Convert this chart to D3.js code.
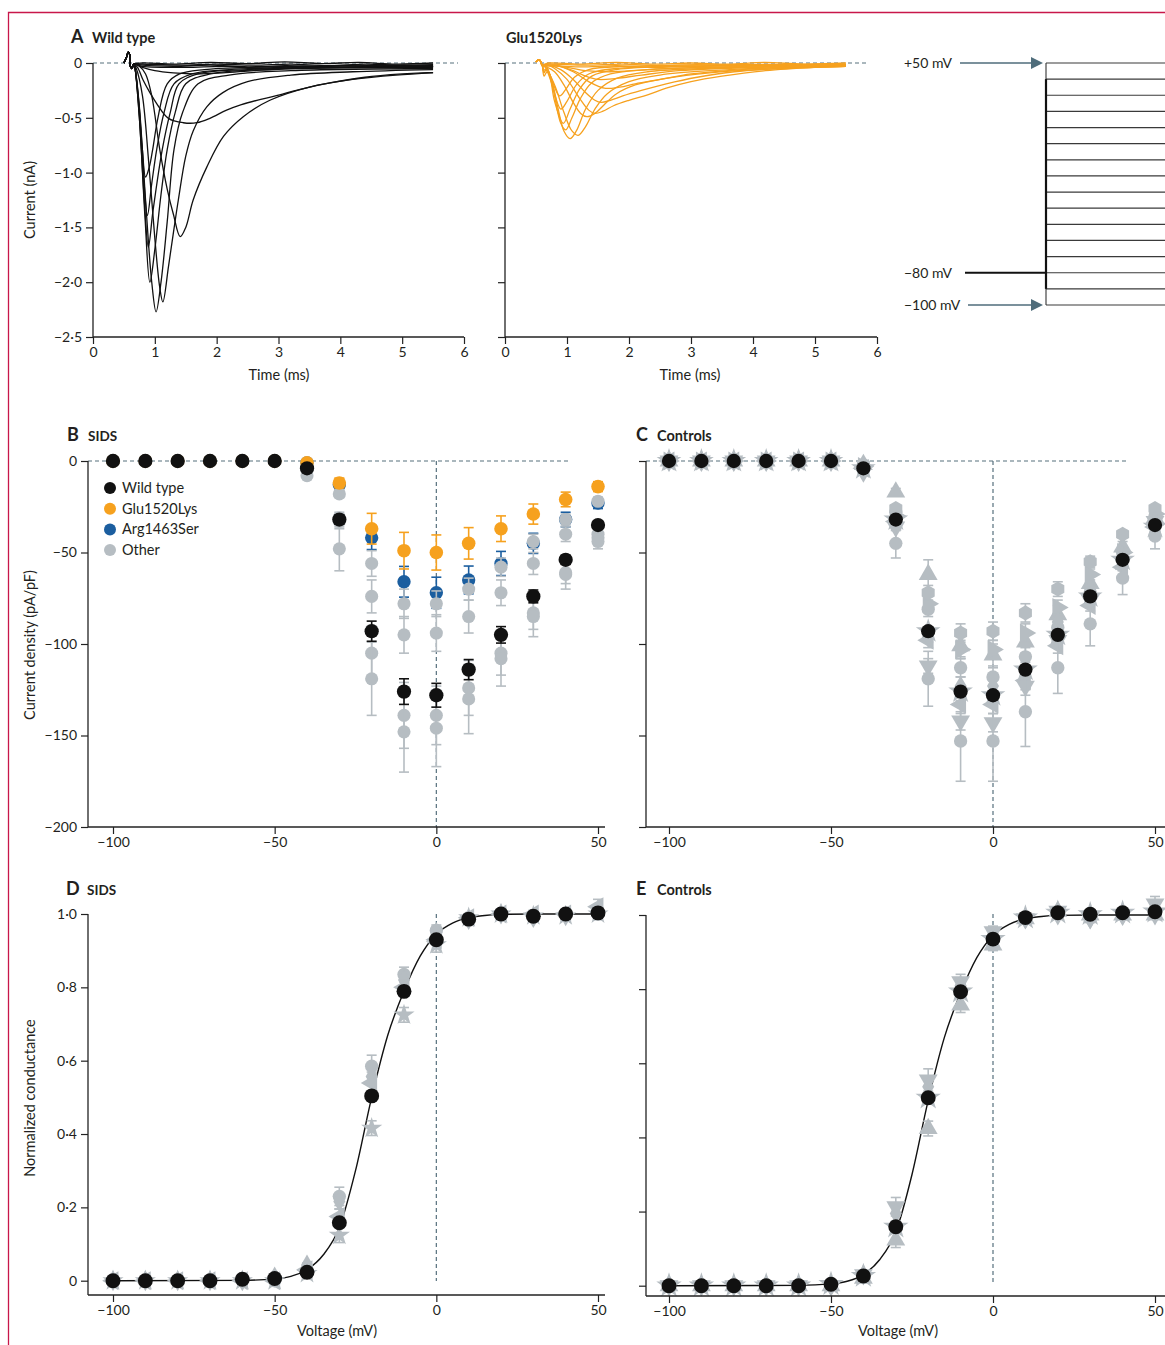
<!DOCTYPE html>
<html>
<head>
<meta charset="utf-8">
<script src="https://cdn.jsdelivr.net/npm/d3@7"></script>
<style>
body { margin: 0; background: #fff; }
svg text { font-family: Lato, "Open Sans", sans-serif; fill: #231f20; }
</style>
</head>
<body>
<div id="fig"></div>
<script>
// ---- data ----
const timeTicks = [0, 1, 2, 3, 4, 5, 6]
const currentTicks = [0, -0.5, -1, -1.5, -2, -2.5]
const voltages = [-100, -90, -80, -70, -60, -50, -40, -30, -20, -10, 0, 10, 20, 30, 40, 50]
const voltageTicks = [-100, -50, 0, 50]
const densityTicks = [0, -50, -100, -150, -200]
const conductanceTicks = [0, 0.2, 0.4, 0.6, 0.8, 1]
const protocolLevels = [50, 40, 30, 20, 10, 0, -10, -20, -30, -40, -50, -60, -70, -80, -90, -100]
const legendLabels = ["Wild type", "Glu1520Lys", "Arg1463Ser", "Other"]

// panel A: example current traces, [time ms, current nA]
const wtArtifact = [[0.5, 0], [0.54, 0.05], [0.57, 0.1], [0.6, 0.06], [0.6, -0.02], [0.63, -0.05], [0.66, -0.01]]
const wtTraces = [
    wtArtifact.concat([[0.8, 0], [1.3, -0.01], [1.9, 0.005], [2.5, -0.005], [3.1, 0.01], [3.7, -0.005], [4.3, 0.005], [4.9, -0.01], [5.5, 0]]),
    wtArtifact.concat([[0.8, -0.01], [1.4, -0.02], [2.0, -0.01], [2.6, -0.02], [3.2, -0.01], [3.8, -0.025], [4.4, -0.01], [5.0, -0.02], [5.5, -0.015]]),
    wtArtifact.concat([[0.8, -0.02], [1.3, -0.03], [1.9, -0.02], [2.5, -0.035], [3.1, -0.025], [3.7, -0.03], [4.3, -0.02], [4.9, -0.03], [5.5, -0.025]]),
    wtArtifact.concat([[0.8, -0.03], [1.5, -0.04], [2.1, -0.03], [2.7, -0.045], [3.3, -0.035], [3.9, -0.04], [4.5, -0.03], [5.1, -0.04], [5.5, -0.035]]),
    wtArtifact.concat([[0.8, -0.04], [1.0, -0.07], [1.3, -0.09], [1.7, -0.1], [2.1, -0.09], [2.6, -0.07], [3.2, -0.05], [4.0, -0.04], [4.8, -0.04], [5.5, -0.03]]),
    wtArtifact.concat([[0.72, -0.04], [0.81, -0.155], [0.92, -0.27], [1.03, -0.37], [1.22, -0.505], [1.46, -0.545], [1.68, -0.545], [1.89, -0.505], [2.16, -0.43], [2.4, -0.38], [2.65, -0.34], [2.95, -0.3], [3.35, -0.24], [3.85, -0.18], [4.4, -0.13], [5.0, -0.1], [5.5, -0.085]]),
    wtArtifact.concat([[0.75, -0.03], [0.85, -0.1], [0.95, -0.3], [1.08, -0.79], [1.2, -1.15], [1.3, -1.38], [1.41, -1.585], [1.5, -1.5], [1.62, -1.25], [1.84, -0.95], [2.11, -0.67], [2.43, -0.49], [2.86, -0.34], [3.5, -0.22], [4.2, -0.15], [4.9, -0.11], [5.5, -0.09]]),
    wtArtifact.concat([[0.7, -0.05], [0.8, -0.3], [0.9, -0.9], [1.0, -1.6], [1.08, -2.05], [1.13, -2.18], [1.22, -1.86], [1.3, -1.55], [1.38, -1.25], [1.5, -0.85], [1.62, -0.62], [1.84, -0.4], [2.1, -0.27], [2.5, -0.17], [3.2, -0.11], [4.2, -0.08], [5.5, -0.06]]),
    wtArtifact.concat([[0.68, -0.05], [0.75, -0.4], [0.85, -1.25], [0.95, -2.0], [1.02, -2.27], [1.1, -2.0], [1.2, -1.45], [1.31, -0.79], [1.45, -0.45], [1.7, -0.19], [2.2, -0.11], [3.2, -0.07], [5.5, -0.05]]),
    wtArtifact.concat([[0.68, -0.05], [0.75, -0.5], [0.84, -1.4], [0.92, -2.0], [1.0, -1.7], [1.1, -1.2], [1.2, -0.79], [1.33, -0.45], [1.5, -0.19], [1.9, -0.1], [2.8, -0.06], [5.5, -0.04]]),
    wtArtifact.concat([[0.68, -0.05], [0.75, -0.5], [0.83, -1.25], [0.895, -1.68], [0.97, -1.35], [1.12, -0.79], [1.25, -0.45], [1.39, -0.19], [1.7, -0.1], [2.5, -0.06], [5.5, -0.03]]),
    wtArtifact.concat([[0.68, -0.05], [0.75, -0.45], [0.82, -1.05], [0.88, -1.39], [0.95, -1.1], [1.03, -0.79], [1.15, -0.45], [1.31, -0.19], [1.6, -0.1], [2.2, -0.06], [5.5, -0.03]]),
    wtArtifact.concat([[0.68, -0.05], [0.74, -0.35], [0.8, -0.8], [0.85, -1.04], [0.91, -0.95], [0.965, -0.79], [1.05, -0.5], [1.2, -0.19], [1.4, -0.1], [1.8, -0.06], [2.5, -0.04], [5.5, -0.02]])
]

const gluArtifact = [[0.5, 0.01], [0.54, 0.03], [0.57, 0.02], [0.6, -0.02]]
const gluTraces = [
    gluArtifact.concat([[0.7, 0], [1.2, -0.01], [1.8, 0.005], [2.4, -0.01], [3.0, 0], [3.6, -0.01], [4.2, 0.005], [4.8, -0.01], [5.5, 0]]),
    gluArtifact.concat([[0.7, -0.01], [1.3, -0.02], [1.9, -0.01], [2.5, -0.025], [3.1, -0.015], [3.7, -0.025], [4.3, -0.015], [4.9, -0.025], [5.5, -0.02]]),
    gluArtifact.concat([[0.7, -0.02], [1.2, -0.035], [1.8, -0.025], [2.4, -0.04], [3.0, -0.03], [3.6, -0.04], [4.2, -0.03], [4.8, -0.035], [5.5, -0.03]]),
    gluArtifact.concat([[0.63, -0.09], [0.67, -0.05], [0.75, -0.15], [0.85, -0.4], [0.95, -0.62], [1.05, -0.69], [1.15, -0.62], [1.3, -0.42], [1.5, -0.25], [1.8, -0.14], [2.3, -0.08], [3.2, -0.05], [4.5, -0.03], [5.5, -0.03]]),
    gluArtifact.concat([[0.63, -0.12], [0.68, -0.08], [0.8, -0.2], [0.95, -0.45], [1.08, -0.62], [1.18, -0.66], [1.3, -0.58], [1.45, -0.42], [1.65, -0.28], [2.0, -0.17], [2.5, -0.11], [3.3, -0.07], [4.5, -0.04], [5.5, -0.03]]),
    gluArtifact.concat([[0.63, -0.08], [0.68, -0.05], [0.78, -0.25], [0.9, -0.55], [0.98, -0.61], [1.08, -0.5], [1.22, -0.32], [1.4, -0.18], [1.7, -0.1], [2.3, -0.06], [5.5, -0.02]]),
    gluArtifact.concat([[0.63, -0.06], [0.7, -0.08], [0.8, -0.35], [0.94, -0.55], [1.05, -0.42], [1.2, -0.24], [1.4, -0.12], [1.8, -0.06], [3.0, -0.03], [5.5, -0.02]]),
    gluArtifact.concat([[0.65, -0.03], [0.8, -0.08], [0.95, -0.2], [1.1, -0.36], [1.22, -0.46], [1.32, -0.49], [1.45, -0.46], [1.6, -0.38], [1.8, -0.28], [2.1, -0.2], [2.6, -0.14], [3.3, -0.09], [4.4, -0.05], [5.5, -0.03]]),
    gluArtifact.concat([[0.65, -0.01], [0.8, -0.05], [1.0, -0.15], [1.2, -0.32], [1.35, -0.43], [1.45, -0.46], [1.58, -0.44], [1.75, -0.39], [2.0, -0.34], [2.3, -0.29], [2.6, -0.23], [3.0, -0.17], [3.5, -0.12], [4.2, -0.07], [5.0, -0.04], [5.5, -0.03]]),
    gluArtifact.concat([[0.65, -0.04], [0.75, -0.18], [0.9, -0.42], [1.0, -0.35], [1.15, -0.2], [1.35, -0.1], [1.8, -0.05], [5.5, -0.02]]),
    gluArtifact.concat([[0.7, -0.02], [0.9, -0.06], [1.1, -0.15], [1.3, -0.27], [1.45, -0.34], [1.55, -0.36], [1.7, -0.34], [1.9, -0.3], [2.2, -0.25], [2.6, -0.19], [3.1, -0.13], [3.7, -0.08], [4.5, -0.05], [5.5, -0.03]]),
    gluArtifact.concat([[0.65, -0.02], [0.72, -0.1], [0.88, -0.3], [0.98, -0.24], [1.12, -0.13], [1.35, -0.06], [2.0, -0.03], [5.5, -0.01]]),
    gluArtifact.concat([[0.8, -0.02], [1.1, -0.08], [1.35, -0.17], [1.6, -0.23], [1.85, -0.22], [2.1, -0.19], [2.5, -0.15], [3.0, -0.1], [3.6, -0.07], [4.5, -0.04], [5.5, -0.02]]),
    gluArtifact.concat([[0.8, -0.02], [1.1, -0.07], [1.3, -0.12], [1.5, -0.15], [1.8, -0.14], [2.2, -0.11], [2.8, -0.07], [3.5, -0.05], [5.5, -0.02]]),
    gluArtifact.concat([[0.9, -0.03], [1.3, -0.07], [1.7, -0.08], [2.3, -0.06], [3.2, -0.04], [5.5, -0.02]])
]

// panel B: SIDS current density (pA/pF), mean and error
const wtDensity = [0, 0, 0, 0, 0, 0, -4, -32, -93, -126, -128, -114, -95, -74, -54, -35]
const wtDensityErr = [0, 0, 0, 0, 0, 0, 1, 2.5, 5.5, 7, 6.5, 5.5, 4.5, 3.5, 2.5, 2]
const gluDensity = [0, 0, 0, 0, 0, 0, -1, -12, -37, -49, -50, -45, -37, -29, -21, -14]
const gluDensityErr = [0, 0, 0, 0, 0, 0, 0.5, 2.7, 8.4, 10, 9.6, 8.6, 7, 5.5, 4, 2.7]
const argDensity = [0, 0, 0, 0, 0, 0, -1, -13, -42, -66, -72, -65, -56, -45, -32, -23]
const argDensityErr = [0, 0, 0, 0, 0, 0, 0.5, 2, 6.4, 8.4, 8.5, 7.6, 6.6, 5.5, 4, 3]
const otherDensity = [
    [0, 0, 0, 0, 0, 0, -1, -18, -56, -78, -78, -70, -58, -44, -32, -22],
    [0, 0, 0, 0, 0, 0, -3, -31, -74, -95, -94, -85, -72, -56, -40, -40],
    [0, 0, 0, 0, 0, 0, -5, -33, -105, -139, -139, -124, -105, -83, -61, -42],
    [0, 0, 0, 0, 0, 0, -8, -48, -119, -148, -146, -130, -108, -85, -62, -44]
]
const otherDensityErr = [
    [0, 0, 0, 0, 0, 0, 0.5, 2, 7, 8, 7, 6, 5, 4, 3, 2],
    [0, 0, 0, 0, 0, 0, 1, 3, 9, 10, 10, 9, 7, 6, 4, 3],
    [0, 0, 0, 0, 0, 0, 1, 4, 15, 18, 16, 15, 12, 9, 6, 4],
    [0, 0, 0, 0, 0, 0, 2, 12, 20, 22, 21, 19, 15, 11, 8, 4]
]

// panel C: controls current density
const ctrlShapes = ["star", "triangle", "circle", "triangleRight", "hexagon", "triangleLeft", "diamond", "triangleDown", "circle"]
const ctrlDensity = [
    [0, 0, 0, 0, 0, 0, -4, -32, -93, -126, -128, -114, -95, -74, -54, -36],
    [0, 0, 0, 0, 0, 0, -2, -17, -62, -101, -106, -99, -84, -67, -47, -31],
    [0, 0, 0, 0, 0, 0, -3, -28, -81, -113, -118, -107, -91, -72, -50, -30],
    [0, 0, 0, 0, 0, 0, -3, -30, -78, -103, -103, -94, -80, -62, -50, -29],
    [0, 0, 0, 0, 0, 0, -2, -26, -72, -94, -93, -83, -70, -55, -40, -26],
    [0, 0, 0, 0, 0, 0, -4, -33, -98, -133, -133, -120, -101, -79, -58, -36],
    [0, 0, 0, 0, 0, 0, -4, -33, -95, -123, -123, -115, -88, -70, -52, -33],
    [0, 0, 0, 0, 0, 0, -6, -36, -112, -142, -143, -123, -98, -76, -55, -33],
    [0, 0, 0, 0, 0, 0, -5, -45, -119, -153, -153, -137, -113, -89, -64, -41]
]
const ctrlDensityErr = [
    [0, 0, 0, 0, 0, 0, 0, 0, 0, 0, 0, 0, 0, 0, 0, 0],
    [0, 0, 0, 0, 0, 0, 1, 2, 8, 6, 6, 6, 5, 4, 3, 2],
    [0, 0, 0, 0, 0, 0, 1, 2, 4, 5, 5, 5, 4, 3, 2, 2],
    [0, 0, 0, 0, 0, 0, 1, 2, 4, 5, 5, 5, 4, 3, 2, 2],
    [0, 0, 0, 0, 0, 0, 1, 2, 4, 5, 5, 5, 4, 3, 2, 2],
    [0, 0, 0, 0, 0, 0, 1, 2, 4, 5, 5, 5, 4, 3, 2, 2],
    [0, 0, 0, 0, 0, 0, 1, 2, 4, 5, 5, 5, 4, 3, 2, 2],
    [0, 0, 0, 0, 0, 0, 1, 2, 4, 5, 5, 5, 4, 3, 2, 2],
    [0, 0, 0, 0, 0, 0, 2, 8, 15, 22, 22, 19, 14, 12, 9, 7]
]

// panels D/E: normalised conductance
const sidsConductance = [0, 0, 0, 0, 0.004, 0.006, 0.023, 0.158, 0.504, 0.789, 0.93, 0.986, 1.0, 0.994, 1.0, 1.003]
const sidsOtherShapes = ["star", "circle", "diamond", "triangleLeft"]
const sidsOtherConductance = [
    [0, 0, 0, 0, 0, 0, 0.02, 0.124, 0.416, 0.725, 0.916, 0.99, 1.0, 0.995, 0.995, 1.0],
    [0, 0, 0, 0, 0, 0, 0.03, 0.23, 0.585, 0.835, 0.955, 0.99, 1.0, 0.995, 1.0, 1.0],
    [0, 0, 0, 0, 0, 0.01, 0.043, 0.216, 0.557, 0.82, 0.95, 0.985, 1.0, 0.99, 0.995, 1.01],
    [0, 0, 0, 0, 0, 0, 0.03, 0.175, 0.539, 0.8, 0.93, 0.99, 1.0, 1.0, 1.0, 1.02]
]
const sidsOtherErr = [
    [0, 0, 0, 0, 0, 0, 0.005, 0.02, 0.02, 0.02, 0.02, 0.01, 0.01, 0.01, 0.01, 0.01],
    [0, 0, 0, 0, 0, 0, 0.005, 0.025, 0.03, 0.02, 0.015, 0.01, 0.01, 0.01, 0.01, 0.015],
    [0, 0, 0, 0, 0, 0, 0.005, 0.02, 0.02, 0.02, 0.015, 0.01, 0.01, 0.01, 0.01, 0.01],
    [0, 0, 0, 0, 0, 0, 0.005, 0.02, 0.03, 0.02, 0.015, 0.01, 0.01, 0.01, 0.01, 0.02]
]
const ctrlConductance = [0, 0, 0, 0, 0, 0.004, 0.026, 0.159, 0.507, 0.793, 0.935, 0.993, 1.006, 1.002, 1.006, 1.009]
const ctrlOtherShapes = ["star", "triangleDown", "triangle", "diamond"]
const ctrlOtherConductance = [
    [0, 0, 0, 0, 0, 0.004, 0.026, 0.159, 0.507, 0.793, 0.935, 0.993, 1.006, 1.002, 1.006, 1.009],
    [0, 0, 0, 0, 0, 0, 0.03, 0.213, 0.555, 0.82, 0.955, 0.99, 1.01, 0.99, 1.0, 1.03],
    [0, 0, 0, 0, 0, 0, 0.02, 0.123, 0.424, 0.757, 0.919, 0.99, 1.01, 1.0, 1.0, 1.0],
    [0, 0, 0, 0, 0, 0, 0.03, 0.195, 0.537, 0.81, 0.94, 0.99, 1.0, 0.99, 1.0, 1.0]
]
const ctrlOtherErr = [
    [0, 0, 0, 0, 0, 0, 0, 0, 0, 0, 0, 0, 0, 0, 0, 0],
    [0, 0, 0, 0, 0, 0, 0.005, 0.025, 0.03, 0.02, 0.015, 0.01, 0.01, 0.01, 0.01, 0.02],
    [0, 0, 0, 0, 0, 0, 0.005, 0.02, 0.02, 0.02, 0.015, 0.01, 0.01, 0.01, 0.01, 0.01],
    [0, 0, 0, 0, 0, 0, 0.005, 0.02, 0.02, 0.02, 0.015, 0.01, 0.01, 0.01, 0.01, 0.01]
]
// fitted activation curve, sampled from the figure
const fitVoltage = [-100, -60, -50, -45, -40, -35, -30, -25, -20, -15, -10, -5, 0, 5, 10, 15, 20, 30, 50]
const fitConductance = [0, 0.001, 0.005, 0.012, 0.03, 0.07, 0.145, 0.3, 0.5, 0.67, 0.79, 0.885, 0.945, 0.975, 0.99, 0.996, 0.999, 1.0, 1.0]

// ---- styling ----
const BLACK = "#111"
const ORANGE = "#f6a11e"
const BLUE = "#1b5e9f"
const GREY = "#b6bdc2"
const SLATE = "#56707d"

const svg = d3.select("#fig").append("svg").attr("width", 1165).attr("height", 1345)

// frame of the figure
svg.append("path").attr("d", "M8.5,1345 V12.5 H1165")
    .attr("fill", "none").attr("stroke", "#c8174a").attr("stroke-width", 1.3)

function fmt(dec) {
    return function(d) {
        if (d === 0) return "0"
        return (d < 0 ? "\u2212" : "") + Math.abs(d).toFixed(dec).replace(".", "\u00b7")
    }
}

function styleAxis(a) {
    a.select(".domain").remove()
    a.attr("font-family", null).attr("font-size", null)
    a.selectAll("line").attr("stroke", "#222").attr("stroke-width", 1.2)
    a.selectAll("text").style("font-size", "14px")
}

function leftAxis(scale, x, ticks, format, y0, y1, labels) {
    const a = svg.append("g").attr("transform", "translate(" + x + ",0)")
        .call(d3.axisLeft(scale).tickValues(ticks).tickSize(7).tickPadding(4)
            .tickFormat(labels ? format : () => ""))
    styleAxis(a)
    svg.append("line").attr("x1", x).attr("x2", x).attr("y1", y0).attr("y2", y1)
        .attr("stroke", "#222").attr("stroke-width", 1.3)
}

function bottomAxis(scale, y, ticks, format, x0, x1) {
    const a = svg.append("g").attr("transform", "translate(0," + y + ")")
        .call(d3.axisBottom(scale).tickValues(ticks).tickSize(7).tickPadding(3).tickFormat(format))
    styleAxis(a)
    svg.append("line").attr("x1", x0).attr("x2", x1).attr("y1", y).attr("y2", y)
        .attr("stroke", "#222").attr("stroke-width", 1.3)
}

function dashed(x1, y1, x2, y2) {
    svg.append("line").attr("x1", x1).attr("y1", y1).attr("x2", x2).attr("y2", y2)
        .attr("stroke", SLATE).attr("stroke-width", 1.2).attr("stroke-dasharray", "4,3")
}

function title(x, y, letter, name, nameSize) {
    svg.append("text").attr("x", x).attr("y", y).attr("font-weight", 700)
        .style("font-size", "18px").text(letter)
    svg.append("text").attr("x", x + (letter ? 21 : 0)).attr("y", y).attr("font-weight", 700)
        .style("font-size", nameSize + "px").text(name)
}

function axisTitle(x, y, txt, rotate) {
    svg.append("text").attr("text-anchor", "middle").style("font-size", "14.5px")
        .attr("transform", "translate(" + x + "," + y + ")" + (rotate ? " rotate(-90)" : ""))
        .text(txt)
}

const symbolHexagon = {
    draw(context, size) {
        const r = Math.sqrt(size / (1.5 * Math.sqrt(3)))
        for (let i = 0; i < 6; i++) {
            const a = Math.PI / 3 * i + Math.PI / 6
            if (i) context.lineTo(r * Math.cos(a), r * Math.sin(a))
            else context.moveTo(r * Math.cos(a), r * Math.sin(a))
        }
        context.closePath()
    }
}
const shapeTable = {
    circle: [d3.symbolCircle, 0, 1],
    triangle: [d3.symbolTriangle, 0, 1.1],
    triangleDown: [d3.symbolTriangle, 180, 1.1],
    triangleRight: [d3.symbolTriangle, 90, 1.1],
    triangleLeft: [d3.symbolTriangle, -90, 1.1],
    diamond: [d3.symbolDiamond, 0, 0.9],
    star: [d3.symbolStar, 0, 1.0],
    hexagon: [symbolHexagon, 0, 1.05]
}

function drawSeries(x, y, vals, errs, color, errColor, shape, size) {
    const g = svg.append("g")
    const data = voltages.map((v, i) => ({ v: v, m: vals[i], e: errs ? errs[i] : 0 }))
    const eb = data.filter(d => d.e > 0)
    g.selectAll(".eb").data(eb).join("line")
        .attr("x1", d => x(d.v)).attr("x2", d => x(d.v))
        .attr("y1", d => y(d.m - d.e)).attr("y2", d => y(d.m + d.e))
        .attr("stroke", errColor).attr("stroke-width", 1.6)
    g.selectAll(".capt").data(eb).join("line")
        .attr("x1", d => x(d.v) - 5).attr("x2", d => x(d.v) + 5)
        .attr("y1", d => y(d.m + d.e)).attr("y2", d => y(d.m + d.e))
        .attr("stroke", errColor).attr("stroke-width", 1.6)
    g.selectAll(".capb").data(eb).join("line")
        .attr("x1", d => x(d.v) - 5).attr("x2", d => x(d.v) + 5)
        .attr("y1", d => y(d.m - d.e)).attr("y2", d => y(d.m - d.e))
        .attr("stroke", errColor).attr("stroke-width", 1.6)
    const s = shapeTable[shape]
    g.selectAll(".pt").data(data).join("path")
        .attr("transform", d => "translate(" + x(d.v) + "," + y(d.m) + ") rotate(" + s[1] + ")")
        .attr("d", d3.symbol(s[0], size * s[2]))
        .attr("fill", color)
}

// ---- A: example traces ----
const xA1 = d3.scaleLinear().domain([0, 6]).range([93, 464])
const xA2 = d3.scaleLinear().domain([0, 6]).range([505, 877])
const yA = d3.scaleLinear().domain([0, -2.5]).range([63, 337])

title(71, 43, "A", "Wild type", 14.5)
title(506, 43, "", "Glu1520Lys", 14.5)

dashed(93, 63, 458, 63)
dashed(505, 63, 866, 63)

const lineA1 = d3.line().x(d => xA1(d[0])).y(d => yA(d[1])).curve(d3.curveCatmullRom.alpha(0.5))
const lineA2 = d3.line().x(d => xA2(d[0])).y(d => yA(d[1])).curve(d3.curveCatmullRom.alpha(0.5))

svg.append("g").selectAll("path").data(wtTraces).join("path")
    .attr("d", lineA1).attr("fill", "none").attr("stroke", BLACK).attr("stroke-width", 1.3)
svg.append("g").selectAll("path").data(gluTraces).join("path")
    .attr("d", lineA2).attr("fill", "none").attr("stroke", ORANGE).attr("stroke-width", 1.3)

leftAxis(yA, 93, currentTicks, fmt(1), 63, 337, true)
bottomAxis(xA1, 337, timeTicks, d3.format("d"), 93, 464)
leftAxis(yA, 505, currentTicks, fmt(1), 63, 337, false)
bottomAxis(xA2, 337, timeTicks, d3.format("d"), 505, 877)
axisTitle(279, 380, "Time (ms)")
axisTitle(690, 380, "Time (ms)")
axisTitle(35, 200, "Current (nA)", true)

// voltage protocol
const yP = d3.scaleLinear().domain([-100, 50]).range([305, 63])
svg.append("g").selectAll("line").data(protocolLevels).join("line")
    .attr("x1", 1046).attr("x2", 1165).attr("y1", d => yP(d)).attr("y2", d => yP(d))
    .attr("stroke", "#3a3a3a").attr("stroke-width", 1.2)
svg.append("line").attr("x1", 1046).attr("x2", 1046).attr("y1", yP(50)).attr("y2", yP(-100))
    .attr("stroke", "#333").attr("stroke-width", 1.1)
svg.append("line").attr("x1", 1046).attr("x2", 1046).attr("y1", yP(40)).attr("y2", yP(-90))
    .attr("stroke", BLACK).attr("stroke-width", 2.2)
svg.append("line").attr("x1", 965).attr("x2", 1046).attr("y1", yP(-80)).attr("y2", yP(-80))
    .attr("stroke", BLACK).attr("stroke-width", 2.2)
function arrow(x0, v) {
    const y = yP(v)
    svg.append("line").attr("x1", x0).attr("x2", 1033).attr("y1", y).attr("y2", y)
        .attr("stroke", "#4f6d7b").attr("stroke-width", 1.3)
    svg.append("path").attr("d", "M1031," + (y - 6) + " L1043," + y + " L1031," + (y + 6) + "Z")
        .attr("fill", "#4f6d7b")
}
arrow(960, 50)
arrow(968, -100)
svg.append("text").attr("x", 904).attr("y", yP(50) + 5).style("font-size", "14px").text("+50 mV")
svg.append("text").attr("x", 904).attr("y", yP(-80) + 5).style("font-size", "14px").text("\u221280 mV")
svg.append("text").attr("x", 904).attr("y", yP(-100) + 5).style("font-size", "14px").text("\u2212100 mV")

// ---- B: SIDS current density ----
const xB = d3.scaleLinear().domain([-100, 50]).range([113, 598])
const xC = d3.scaleLinear().domain([-100, 50]).range([669, 1155])
const yB = d3.scaleLinear().domain([0, -200]).range([461, 827])

title(67, 441, "B", "SIDS", 13.5)
title(636, 441, "C", "Controls", 14.5)

dashed(88, 461, 570, 461)
dashed(xB(0), 461, xB(0), 827)
dashed(646, 461, 1128, 461)
dashed(xC(0), 461, xC(0), 827)

drawSeries(xB, yB, argDensity, argDensityErr, BLUE, BLUE, "circle", 140)
otherDensity.forEach((vals, i) => drawSeries(xB, yB, vals, otherDensityErr[i], GREY, GREY, "circle", 135))
drawSeries(xB, yB, gluDensity, gluDensityErr, ORANGE, ORANGE, "circle", 145)
drawSeries(xB, yB, wtDensity, wtDensityErr, BLACK, BLACK, "circle", 160)

leftAxis(yB, 88, densityTicks, fmt(0), 461, 827, true)
bottomAxis(xB, 827, voltageTicks, fmt(0), 88, 605)
axisTitle(35, 645, "Current density (pA/pF)", true)

// legend
const legendColors = [BLACK, ORANGE, BLUE, GREY]
const lg = svg.append("g").selectAll("g").data(legendLabels).join("g")
    .attr("transform", (d, i) => "translate(110," + (488 + i * 20.7) + ")")
lg.append("circle").attr("r", 6).attr("fill", (d, i) => legendColors[i])
lg.append("text").attr("x", 12).attr("y", 5).style("font-size", "14.5px").text(d => d)

// ---- C: controls current density ----
ctrlDensity.forEach((vals, i) => drawSeries(xC, yB, vals, ctrlDensityErr[i], GREY, GREY, ctrlShapes[i], i === 0 ? 190 : 140))
drawSeries(xC, yB, wtDensity, null, BLACK, BLACK, "circle", 160)
leftAxis(yB, 646, densityTicks, fmt(0), 461, 827, false)
bottomAxis(xC, 827, voltageTicks, fmt(0), 646, 1165)

// ---- D/E: conductance ----
const yD = d3.scaleLinear().domain([0, 1]).range([1280.7, 914])
const yE = d3.scaleLinear().domain([0, 1]).range([1285.7, 915])

title(66, 895, "D", "SIDS", 13.5)
title(636, 895, "E", "Controls", 14.5)

dashed(xB(0), 914, xB(0), 1281)
dashed(xC(0), 914, xC(0), 1285)

const fitLineD = d3.line().x((d, i) => xB(fitVoltage[i])).y(d => yD(d)).curve(d3.curveMonotoneX)
const fitLineE = d3.line().x((d, i) => xC(fitVoltage[i])).y(d => yE(d)).curve(d3.curveMonotoneX)
svg.append("path").datum(fitConductance).attr("d", fitLineD)
    .attr("fill", "none").attr("stroke", BLACK).attr("stroke-width", 1.4)
svg.append("path").datum(fitConductance).attr("d", fitLineE)
    .attr("fill", "none").attr("stroke", BLACK).attr("stroke-width", 1.4)

sidsOtherConductance.forEach((vals, i) => drawSeries(xB, yD, vals, sidsOtherErr[i], GREY, GREY, sidsOtherShapes[i], 140))
drawSeries(xB, yD, sidsConductance, null, BLACK, BLACK, "circle", 175)
ctrlOtherConductance.forEach((vals, i) => drawSeries(xC, yE, vals, ctrlOtherErr[i], GREY, GREY, ctrlOtherShapes[i], i === 0 ? 200 : 140))
drawSeries(xC, yE, ctrlConductance, null, BLACK, BLACK, "circle", 175)

leftAxis(yD, 88, conductanceTicks, fmt(1), 914, 1295, true)
bottomAxis(xB, 1295, voltageTicks, fmt(0), 88, 605)
leftAxis(yE, 646, conductanceTicks, fmt(1), 915, 1296, false)
bottomAxis(xC, 1296, voltageTicks, fmt(0), 646, 1165)
axisTitle(337, 1336, "Voltage (mV)")
axisTitle(898, 1336, "Voltage (mV)")
axisTitle(35, 1098, "Normalized conductance", true)
</script>
</body>
</html>
